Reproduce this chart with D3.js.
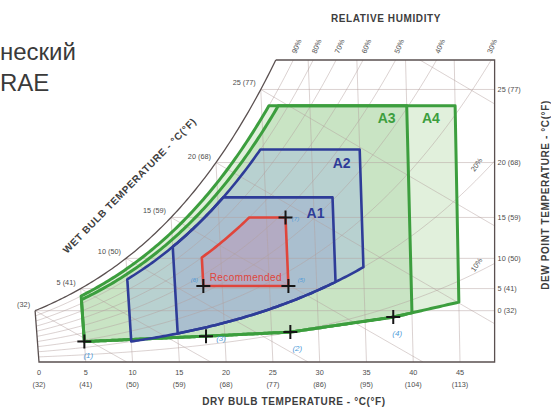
<!DOCTYPE html>
<html><head><meta charset="utf-8">
<script src="https://cdn.jsdelivr.net/npm/d3@7"></script>
<style>body{margin:0;background:#fff} svg{display:block}</style>
</head><body>
<svg id="c" width="551" height="408"></svg>
<script>
// ---------------- data ----------------
const titleLines = ["неский", "RAE"];
const dryBulbC = [0,5,10,15,20,25,30,35,40,45];
const dryBulbF = ["(32)","(41)","(50)","(59)","(68)","(77)","(86)","(95)","(104)","(113)"];
const dewPointC = [0,5,10,15,20,25];
const dewPointLabels = ["0 (32)","5 (41)","10 (50)","15 (59)","20 (68)","25 (77)"];
const wetBulbC = [0,5,10,15,20,25];
const wetBulbLabels = ["(32)","5 (41)","10 (50)","15 (59)","20 (68)","25 (77)"];
const wetBulbLinesC = [0,5,10,15,20,25,30];
const rhLevels = [10,20,30,40,50,60,70,80,90];
const rhTopLabels = [30,40,50,60,70,80,90];
const rhSideLabels = [10,20];
// envelopes (ASHRAE classes)
const envNames = ["A4","A3","A2","A1","Recommended"];
const envTmin  = [5,5,10,15,18];
const envTmax  = [45,40,35,32,27];
const envRHmax = [90,85,80,80,60];
const envDPmax = [24,24,21,17,15];
const envRHmin = [null,null,20,20,null];
const envDPmin = [null,null,null,null,5.5];
// lower limit of A3/A4 (dry bulb °C, humidity ratio g/kg)
const lowLimitT = [5,18,27,38,45];
const lowLimitW = [1.5,1.9,2.2,3.3,4.4];
// marked points
const pointLabels = ["(1)","(3)","(2)","(4)","(6)","(5)","(7)"];
const pointT  = [5,18,27,38,18,27,27];
const pointW  = [1.5,1.9,2.2,3.3,null,null,null];
const pointDP = [null,null,null,null,5.5,5.5,15];
const chartTmax = 48.7, chartWmax = 22.2;

// ---------------- psychrometrics ----------------
const Patm = 101.325;
const ps = T => 0.61094*Math.exp(17.625*T/(T+243.04));
const Wfromp = pv => 622*pv/(Patm-pv);
const Ws = T => Wfromp(ps(T));
const Wrh = (T,rh) => Wfromp(rh/100*ps(T));
const Wdp = Td => Wfromp(ps(Td));
function solveT(fn, target, lo=-20, hi=80){
  for(let k=0;k<60;k++){const m=(lo+hi)/2; if(fn(m)<target) lo=m; else hi=m;}
  return (lo+hi)/2;
}
function Wwb(T, Twb){
  const wsw = Ws(Twb)/1000;
  return 1000*((2501-2.326*Twb)*wsw - 1.006*(T-Twb))/(2501+1.86*T-4.186*Twb);
}

// ---------------- scales ----------------
const x = d3.scaleLinear().domain([0,45]).range([39,460]);
const y = d3.scaleLinear().domain([0,chartWmax]).range([362,60]);
const skew = (T,W) => T + (W/1000)*1.86*(T-60)/1.006;
const P = (T,W) => [x(skew(T,W)), y(W)];
const lowScale = d3.scaleLinear().domain(lowLimitT).range(lowLimitW);
const line = d3.line();

const svg = d3.select("#c");
const FONT = "'Liberation Sans', Arial, sans-serif";

// title (only the visible part of the cropped heading)
svg.append("text").attr("x",0).attr("y",60)
  .attr("font-family",FONT).attr("font-size",24).attr("fill","#3a3a3a").text(titleLines[0]);
svg.append("text").attr("x",0).attr("y",91)
  .attr("font-family",FONT).attr("font-size",24).attr("fill","#3a3a3a").text(titleLines[1]);

// chart region (for clipping)
const Ttop = solveT(Ws, chartWmax);
const satPts = d3.range(0, Ttop, 0.25).concat([Ttop]).map(T => P(T, Ws(T)));
const xr = x(chartTmax);
const regionPts = [P(0,0), [xr, y(0)], [xr, y(chartWmax)]].concat(satPts.slice().reverse());
svg.append("clipPath").attr("id","clip").append("path").attr("d", line(regionPts)+"Z");

// ---------------- envelopes ----------------
function envelope(i){
  const Tmin=envTmin[i], Tmax=envTmax[i];
  const lower = T => envRHmin[i]!=null ? Wrh(T,envRHmin[i]) : (envDPmin[i]!=null ? Wdp(envDPmin[i]) : lowScale(T));
  const wTop = Wdp(envDPmax[i]);
  const upper = T => Math.min(wTop, Wrh(T, envRHmax[i]));
  const Tc = solveT(T => Wrh(T, envRHmax[i]), wTop);
  let Ts = d3.range(Tmin, Tmax, 0.25).concat([Tmax]);
  if (Tc>Tmin && Tc<Tmax) Ts.push(Tc);
  Ts.sort((a,b)=>a-b);
  const bottom = Ts.map(T => P(T, lower(T)));
  const top = Ts.slice().reverse().map(T => P(T, upper(T)));
  return line(bottom.concat(top)) + "Z";
}
const envFill = ["#e1f0dc","#c9e4c4","#b8d1d0","#aabfcf","#b3abc3"];
const envStroke = ["#3c9e3e","#3c9e3e","#2e3c98","#2e3c98","#e0453b"];
const envWidth = [3,3,2.6,2.6,2.6];
const gEnvFill = svg.append("g");
envNames.forEach((n,i)=>{
  gEnvFill.append("path").attr("d", envelope(i)).attr("fill", envFill[i]);
});

// ---------------- grid ----------------
const grid = svg.append("g").attr("clip-path","url(#clip)")
  .attr("fill","none").attr("stroke","#b3a19e").attr("stroke-width",0.6).attr("stroke-opacity",0.8);
dryBulbC.filter(T=>T>0).forEach(T=>{
  grid.append("path").attr("d", line([P(T,0), P(T, Math.min(Ws(T), chartWmax))]));
});
dewPointC.forEach(Td=>{
  const W = Wdp(Td);
  grid.append("path").attr("d", line([P(Td,W), [xr, y(W)]]));
});
rhLevels.forEach(rh=>{
  const pts = d3.range(0, 60, 0.5).map(T => P(T, Wrh(T,rh))).filter(p=>p[1]>40);
  grid.append("path").attr("d", line(pts));
});
wetBulbLinesC.forEach(Twb=>{
  const T0 = solveT(T => -Wwb(T,Twb), 0, Twb, 120);
  const pts = d3.range(Twb, T0, 0.5).concat([T0]).map(T => P(T, Wwb(T,Twb)));
  grid.append("path").attr("d", line(pts));
});

// ---------------- envelope strokes ----------------
const gEnv = svg.append("g").attr("fill","none").attr("stroke-linejoin","round");
envNames.forEach((n,i)=>{
  gEnv.append("path").attr("d", envelope(i)).attr("stroke", envStroke[i]).attr("stroke-width", envWidth[i]);
});

// ---------------- frame ----------------
const frame = svg.append("g").attr("fill","none").attr("stroke","#5a5050").attr("stroke-width",1.3);
frame.append("path").attr("d", line(satPts));
frame.append("path").attr("d", line([P(0,Ws(0)), P(0,0), [xr,y(0)], [xr,y(chartWmax)], P(Ttop, chartWmax)]));

// ---------------- markers ----------------
const pointOffsets = [[4,13],[15,2],[7,16],[4,16],[-9,-7],[13,-7],[10,1]];
const pointSizes = [8,8,8,8,6,6,6];
pointLabels.forEach((lab,i)=>{
  const W = pointW[i]!=null ? pointW[i] : Wdp(pointDP[i]);
  const [px,py] = P(pointT[i], W);
  svg.append("path").attr("d", `M${px-7},${py}H${px+7}M${px},${py-7}V${py+7}`)
    .attr("stroke","#151515").attr("stroke-width",2);
  svg.append("text").attr("x", px+pointOffsets[i][0]).attr("y", py+pointOffsets[i][1]+3)
    .attr("text-anchor","middle").attr("font-family",FONT).attr("font-style","italic")
    .attr("font-size",pointSizes[i]).attr("fill","#4f9bd9").text(lab);
});

// ---------------- axis labels ----------------
const small = {"font-family":FONT, "font-size":7.3, "fill":"#4d4d4d"};
function txt(g, xx, yy, s, anchor, attrs){
  const t = g.append("text").attr("x",xx).attr("y",yy).attr("text-anchor",anchor||"start").text(s);
  Object.entries(Object.assign({}, small, attrs||{})).forEach(([k,v])=>t.attr(k,v));
  return t;
}
const gl = svg.append("g");
dryBulbC.forEach((T,i)=>{
  txt(gl, x(T), 375, String(T), "middle");
  txt(gl, x(T), 387, dryBulbF[i], "middle");
});
dewPointC.forEach((Td,i)=>{
  txt(gl, xr+3, y(Wdp(Td))+2.5, dewPointLabels[i], "start");
});
wetBulbC.forEach((T,i)=>{
  const [px,py] = P(T, Ws(T));
  txt(gl, px-5, py-4, wetBulbLabels[i], "end");
});
rhTopLabels.forEach(rh=>{
  const T = solveT(t => Wrh(t,rh), chartWmax);
  let [px,py] = P(T, chartWmax);
  px = Math.min(px+8, xr+2);
  txt(gl, px-5, py-6, rh+"%", "start").attr("transform", `rotate(-68 ${px-5} ${py-6})`);
});
rhSideLabels.forEach(rh=>{
  const W = Wrh(chartTmax, rh);
  const cx = xr-16, cy = y(W)+2;
  txt(gl, cx, cy, rh+"%", "middle").attr("transform", `rotate(-55 ${cx} ${cy})`);
});

const head = {"font-weight":"bold","font-size":10,"fill":"#3d3d3d","letter-spacing":0.6};
txt(gl, 386, 22, "RELATIVE HUMIDITY", "middle", head);
txt(gl, 294, 405, "DRY BULB TEMPERATURE - °C(°F)", "middle", head);
txt(gl, 0, 0, "DEW POINT TEMPERATURE - °C(°F)", "middle", head)
  .attr("transform", "translate(549,195) rotate(-90)");
txt(gl, 0, 0, "WET BULB TEMPERATURE - °C(°F)", "middle", head)
  .attr("transform", "translate(132,188) rotate(-45.5)");

// envelope labels
const big = {"font-weight":"bold","font-size":14,"font-family":FONT};
{
  const topA = y(Wdp(24));
  txt(gl, (P(40,Wdp(24))[0]+P(45,Wdp(24))[0])/2, topA+17, "A4", "middle", Object.assign({}, big, {fill:"#3c9e3e"}));
  txt(gl, P(40,Wdp(24))[0]-20, topA+17, "A3", "middle", Object.assign({}, big, {fill:"#3c9e3e"}));
  const a2 = P(35, Wdp(21));
  txt(gl, a2[0]-18, a2[1]+18, "A2", "middle", Object.assign({}, big, {fill:"#2e3c98"}));
  const a1 = P(32, Wdp(17));
  txt(gl, a1[0]-17, a1[1]+21, "A1", "middle", Object.assign({}, big, {fill:"#2e3c98"}));
  const r0 = P(18, Wdp(5.5)), r1 = P(27, Wdp(5.5));
  txt(gl, (r0[0]+r1[0])/2, r0[1]-5, "Recommended", "middle",
    {"font-size":10,"fill":"#e0453b","letter-spacing":0.4});
}
</script>
</body></html>
